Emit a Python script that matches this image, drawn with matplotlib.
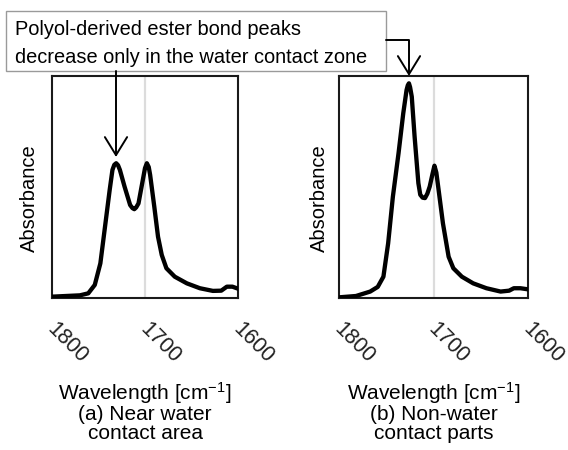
import matplotlib
matplotlib.use("Agg")
import matplotlib.pyplot as plt
from matplotlib.patches import Rectangle, FancyArrowPatch
from matplotlib.transforms import ScaledTranslation

plt.rcParams['font.family'] = ['Liberation Sans', 'DejaVu Sans']
plt.rcParams['mathtext.fontset'] = 'custom'
plt.rcParams['mathtext.rm'] = 'Liberation Sans'
plt.rcParams['mathtext.it'] = 'Liberation Sans:italic'
plt.rcParams['mathtext.bf'] = 'Liberation Sans:bold'

# ---- data ----
wn_a = [1800, 1770, 1761, 1754, 1748, 1743, 1738, 1735, 1733, 1731, 1729, 1727, 1722,
        1716, 1713.5, 1711.5, 1709.5, 1707, 1703, 1700, 1698, 1696, 1694.5, 1690, 1686,
        1682, 1677, 1668, 1655, 1641, 1627, 1618, 1612, 1606, 1600]
abs_a = [0.006, 0.012, 0.021, 0.059, 0.156, 0.321, 0.486, 0.577, 0.600, 0.607, 0.598,
         0.577, 0.502, 0.419, 0.405, 0.400, 0.408, 0.426, 0.517, 0.585, 0.607, 0.590,
         0.555, 0.411, 0.276, 0.194, 0.134, 0.096, 0.066, 0.044, 0.032, 0.033, 0.051,
         0.051, 0.042]

wn_b = [1800, 1782, 1767, 1759, 1753, 1748, 1743, 1737, 1732, 1728.5, 1727.2, 1726,
        1724.8, 1723, 1720, 1716, 1714, 1711.5, 1709, 1706.5, 1704, 1701, 1699, 1697,
        1695, 1690, 1684, 1679, 1670, 1658, 1644, 1629, 1620, 1615, 1608, 1600]
abs_b = [0.003, 0.009, 0.029, 0.050, 0.096, 0.246, 0.456, 0.652, 0.832, 0.937, 0.958,
         0.967, 0.950, 0.907, 0.727, 0.517, 0.465, 0.452, 0.450, 0.470, 0.502, 0.560,
         0.596, 0.565, 0.500, 0.336, 0.186, 0.134, 0.096, 0.066, 0.044, 0.029, 0.033,
         0.044, 0.044, 0.039]

x_ticks = [1800, 1700, 1600]
x_ticklabels = ['1800', '1700', '1600']
ref_line = 1700
ylabel = 'Absorbance'
xlabel_a = 'Wavelength [cm$^{-1}$]\n(a) Near water\ncontact area'
xlabel_b = 'Wavelength [cm$^{-1}$]\n(b) Non-water\ncontact parts'
note_lines = ['Polyol-derived ester bond peaks',
              'decrease only in the water contact zone']

# ---- layout ----
W, H = 568, 450
fig = plt.figure(figsize=(W / 100, H / 100), dpi=100)


def fx(x):
    return x / W


def fy(y):
    return 1 - y / H


ax_a = fig.add_axes([fx(52), fy(298), 186 / W, 222 / H])
ax_b = fig.add_axes([fx(339), fy(298), 189 / W, 222 / H])

for ax, wn, ab, xl, ylx in [(ax_a, wn_a, abs_a, xlabel_a, -0.07),
                            (ax_b, wn_b, abs_b, xlabel_b, -0.055)]:
    ax.axvline(ref_line, color='#dcdcdc', lw=1.6, zorder=1)
    ax.plot(wn, ab, color='black', lw=3.1, solid_joinstyle='round',
            solid_capstyle='round', zorder=3)
    ax.set_xlim(1800, 1600)
    ax.set_ylim(0, 1)
    ax.set_yticks([])
    ax.set_xticks(x_ticks)
    ax.set_xticklabels(x_ticklabels, rotation=-45, fontsize=15.5, color='#222222')
    ax.tick_params(axis='x', length=0, pad=15)
    off = ScaledTranslation(15 / 100, 0, fig.dpi_scale_trans)
    for lab in ax.get_xticklabels():
        lab.set_transform(lab.get_transform() + off)
    for s in ax.spines.values():
        s.set_linewidth(1.5)
        s.set_color('#1a1a1a')
    ax.set_ylabel(ylabel, fontsize=14.5)
    ax.yaxis.set_label_coords(ylx, 0.45)
    ax.text(0.5, -0.37, xl, transform=ax.transAxes, ha='center', va='top',
            fontsize=15, linespacing=0.95, multialignment='center')

# annotation box
fig.add_artist(Rectangle((fx(6), fy(71)), 380 / W, 60 / H, transform=fig.transFigure,
                         facecolor='white', edgecolor='#9a9a9a', lw=1.0, zorder=5))
fig.text(fx(15), fy(35), note_lines[0], fontsize=14.4, va='baseline', ha='left', zorder=6)
fig.text(fx(15), fy(63), note_lines[1], fontsize=14.4, va='baseline', ha='left', zorder=6)

astyle = '->,head_length=0.65,head_width=0.4'
fig.add_artist(FancyArrowPatch((fx(116), fy(71)), (fx(116), fy(157)),
                               transform=fig.transFigure, arrowstyle=astyle,
                               mutation_scale=20, lw=1.4, color='black',
                               shrinkA=0, shrinkB=0, zorder=7))
fig.add_artist(FancyArrowPatch((fx(386), fy(40)), (fx(409), fy(76)),
                               transform=fig.transFigure, arrowstyle=astyle,
                               connectionstyle='angle,angleA=0,angleB=90,rad=0',
                               mutation_scale=20, lw=1.4, color='black',
                               shrinkA=0, shrinkB=0, zorder=7))

fig.savefig('out.png', dpi=100)
